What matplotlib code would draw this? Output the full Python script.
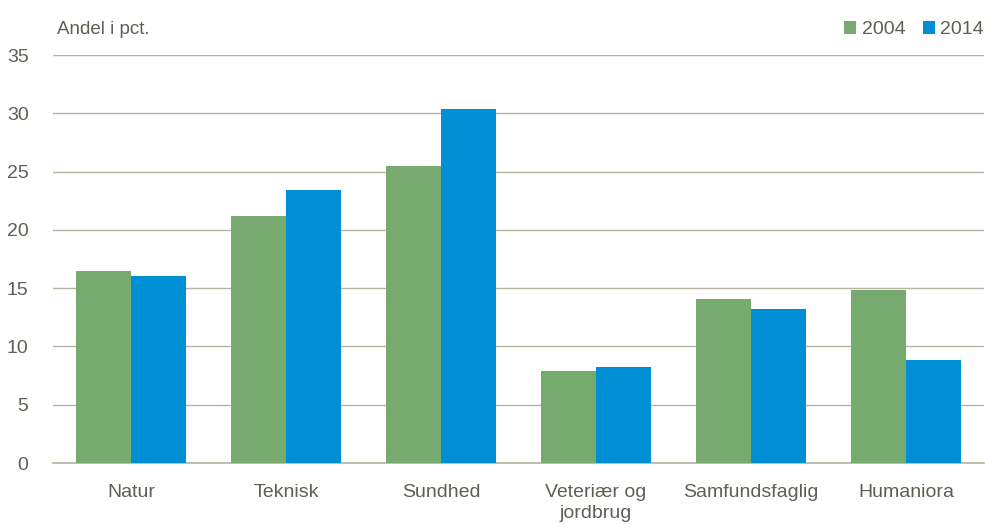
import matplotlib
matplotlib.use("Agg")
import matplotlib.pyplot as plt
import numpy as np

categories = ["Natur", "Teknisk", "Sundhed", "Veteriær og\njordbrug", "Samfundsfaglig", "Humaniora"]
years = ["2004", "2014"]
values_2004 = [16.5, 21.2, 25.5, 7.9, 14.1, 14.8]
values_2014 = [16.0, 23.4, 30.4, 8.2, 13.2, 8.8]
yticks = [0, 5, 10, 15, 20, 25, 30, 35]

green = "#76AA6E"
blue = "#008FD5"
text_col = "#5F5F55"
grid_col = "#B4B4A0"

plt.rcParams["font.family"] = ["Liberation Sans Narrow", "Liberation Sans", "DejaVu Sans"]

fig = plt.figure(figsize=(9.85, 5.24), dpi=100)
ax = fig.add_axes([0.0543, 0.1164, 0.9442, 0.7786])

x = np.arange(len(categories))
w = 0.35
ax.bar(x - w / 2 - 0.003, values_2004, w, color=green, label=years[0], zorder=3)
ax.bar(x + w / 2 + 0.003, values_2014, w, color=blue, label=years[1], zorder=3)

ax.set_xlim(-0.5, len(categories) - 0.5)
ax.set_ylim(0, 35)
ax.set_yticks(yticks)
ax.yaxis.grid(True, color=grid_col, linewidth=1, zorder=0)
ax.set_axisbelow(True)
for s in ["top", "right", "left"]:
    ax.spines[s].set_visible(False)
ax.spines["bottom"].set_color(grid_col)
ax.spines["bottom"].set_linewidth(1.2)
ax.tick_params(axis="both", length=0, labelsize=14, colors=text_col)
ax.tick_params(axis="y", pad=18)
ax.tick_params(axis="x", pad=15)
ax.set_xticks(x)
ax.set_xticklabels(categories, linespacing=1.35)

fig.text(0.058, 0.943, "Andel i pct.", fontsize=13.5, color=text_col, va="center")

fig.legend(loc="center right", bbox_to_anchor=(0.999, 0.943), ncol=2, frameon=False,
           fontsize=14, handlelength=0.6, handleheight=0.6, handletextpad=0.3,
           columnspacing=0.9, labelcolor=text_col, borderaxespad=0, borderpad=0)

fig.savefig("out.png", dpi=100)
